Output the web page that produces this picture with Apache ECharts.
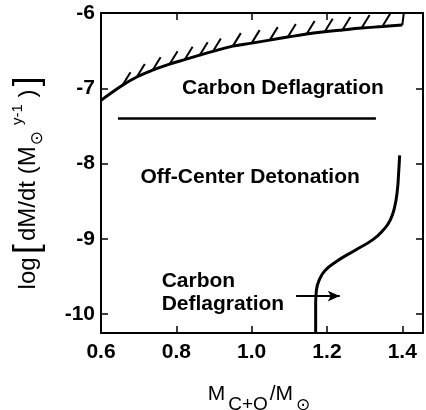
<!DOCTYPE html>
<html><head><meta charset="utf-8">
<script src="https://cdn.jsdelivr.net/npm/echarts@6/dist/echarts.min.js"></script>
<style>html,body{margin:0;padding:0;background:#fff}#c{width:426px;height:410px}</style>
</head><body><div id="c"></div>
<script>
// ---- data ----
const xTickValues = [0.6, 0.8, 1.0, 1.2, 1.4];
const yTickValues = [-10, -9, -8, -7, -6];
// upper (hatched) boundary curve; hatches are drawn at every point after the first
const upperX = [0.600, 0.657, 0.695, 0.737, 0.782, 0.822, 0.862, 0.897, 0.950, 1.000, 1.048, 1.096, 1.146, 1.194, 1.241, 1.292, 1.347, 1.400];
const upperY = [-7.16, -6.96, -6.85, -6.76, -6.68, -6.62, -6.56, -6.51, -6.44, -6.40, -6.36, -6.32, -6.28, -6.25, -6.225, -6.20, -6.18, -6.16];
// horizontal boundary
const midX = [0.645, 1.33];
const midY = [-7.40, -7.40];
// S-shaped boundary
const sX = [1.170, 1.170, 1.172, 1.180, 1.195, 1.225, 1.275, 1.322, 1.350, 1.368, 1.380, 1.387, 1.390, 1.393];
const sY = [-10.25, -9.85, -9.68, -9.54, -9.42, -9.30, -9.15, -9.01, -8.88, -8.75, -8.57, -8.35, -8.15, -7.89];
// arrow
const arrowX = [1.118, 1.234];
const arrowY = -9.76;
// region labels
const labelTexts = ['Carbon Deflagration', 'Off-Center Detonation', 'Carbon\nDeflagration'];
const labelX = [1.083, 0.996, 0.761];
const labelY = [-7.00, -8.18, -9.71];

const FONT = '"Liberation Sans", Arial, Helvetica, sans-serif';
const chart = echarts.init(document.getElementById('c'), null, {renderer: 'canvas'});
const axisLine = {show: true, onZero: false, lineStyle: {color: '#000', width: 2}};
const tickStyle = {color: '#000', width: 1.5};

const option = {
  animation: false,
  backgroundColor: '#fff',
  grid: {left: 101, right: 3, top: 13, bottom: 77, containLabel: false, outerBoundsMode: 'none'},
  xAxis: [{
    type: 'value', position: 'bottom', min: 0.6, max: 1.455,
    axisLine: axisLine,
    axisTick: {show: true, inside: true, length: 7, lineStyle: tickStyle, customValues: [0.8, 1.0, 1.2, 1.4]},
    axisLabel: {customValues: xTickValues, formatter: v => Number(v).toFixed(1), margin: 9,
      fontSize: 21, fontWeight: 'bold', color: '#000', fontFamily: FONT},
    splitLine: {show: false},
    name: '{m|M}{s|C+O}{m|/M}{o|⊙}',
    nameLocation: 'middle', nameGap: 51,
    nameTextStyle: {color: '#000', fontFamily: FONT, padding: [0, 6, 0, 0], rich: {
      m: {fontSize: 21, fontFamily: FONT, color: '#000', verticalAlign: 'top', lineHeight: 30},
      s: {fontSize: 19, fontFamily: FONT, color: '#000', verticalAlign: 'bottom', lineHeight: 30, padding: [0, 2, 0, 3]},
      o: {fontSize: 17, fontFamily: 'DejaVu Sans', color: '#000', verticalAlign: 'bottom', lineHeight: 30, padding: [0, 0, 0, 3]}
    }}
  }, {
    type: 'value', position: 'top', min: 0.6, max: 1.455,
    axisLine: axisLine,
    axisTick: {show: true, inside: true, length: 7, lineStyle: tickStyle, customValues: [0.8, 1.0, 1.2]},
    axisLabel: {show: false}, splitLine: {show: false}
  }],
  yAxis: [{
    type: 'value', position: 'left', min: -10.25, max: -6,
    axisLine: axisLine,
    axisTick: {show: true, inside: true, length: 7, lineStyle: tickStyle, customValues: [-10, -9, -8, -7]},
    axisLabel: {customValues: yTickValues, formatter: v => String(v), margin: 6,
      fontSize: 21, fontWeight: 'bold', color: '#000', fontFamily: FONT},
    splitLine: {show: false},
    name: '{m|log} {b|[} {m|dM/dt (M}{o|⊙}{p|y-1}{m| )} {b|]}',
    nameLocation: 'middle', nameGap: 55, nameRotate: 90,
    nameTextStyle: {color: '#000', fontFamily: FONT, padding: [0, 20, 0, 0], rich: {
      m: {fontSize: 24, fontFamily: FONT, color: '#000', lineHeight: 36},
      b: {fontSize: 35, fontFamily: FONT, color: '#000', lineHeight: 36},
      o: {fontSize: 17, fontFamily: 'DejaVu Sans', color: '#000', verticalAlign: 'bottom', lineHeight: 36, padding: [0, 0, 0, 1]},
      p: {fontSize: 15, fontFamily: FONT, color: '#000', verticalAlign: 'top', lineHeight: 36, padding: [0, 0, 0, 6]}
    }}
  }, {
    type: 'value', position: 'right', min: -10.25, max: -6,
    axisLine: axisLine,
    axisTick: {show: true, inside: true, length: 7, lineStyle: tickStyle, customValues: [-10, -9, -8, -7]},
    axisLabel: {show: false}, splitLine: {show: false}
  }],
  series: [
    {
      type: 'line', smooth: 0.4, symbol: 'none', xAxisIndex: 0, yAxisIndex: 0,
      data: upperX.map((x, i) => [x, upperY[i]]),
      lineStyle: {color: '#000', width: 3}
    },
    {
      type: 'custom', xAxisIndex: 0, yAxisIndex: 0,
      data: upperX.slice(1).map((x, i) => [x, upperY[i + 1]]),
      renderItem: function (params, api) {
        const p = api.coord([api.value(0), api.value(1)]);
        const top = api.coord([api.value(0), -6])[1];
        const last = params.dataIndexInside === params.dataInsideLength - 1;
        const x2 = last ? p[0] + 1.5 : p[0] + 8;
        const y2 = last ? top : Math.max(top, p[1] - 13);
        return {type: 'line', shape: {x1: p[0], y1: p[1], x2: x2, y2: y2},
          style: {stroke: '#000', lineWidth: 2}};
      }
    },
    {
      type: 'line', symbol: 'none', xAxisIndex: 0, yAxisIndex: 0,
      data: midX.map((x, i) => [x, midY[i]]),
      lineStyle: {color: '#000', width: 2.5}
    },
    {
      type: 'line', smooth: 0.5, symbol: 'none', xAxisIndex: 0, yAxisIndex: 0,
      data: sX.map((x, i) => [x, sY[i]]),
      lineStyle: {color: '#000', width: 3},
      markLine: {
        silent: true, symbol: ['none', 'arrow'], symbolSize: [8, 12],
        label: {show: false},
        lineStyle: {color: '#000', width: 2, type: 'solid'},
        emphasis: {disabled: true},
        data: [[{coord: [arrowX[0], arrowY]}, {coord: [arrowX[1], arrowY]}]]
      }
    },
    {
      type: 'custom', xAxisIndex: 0, yAxisIndex: 0,
      data: labelX.map((x, i) => [x, labelY[i], i]),
      renderItem: function (params, api) {
        const idx = api.value(2);
        const p = api.coord([api.value(0), api.value(1)]);
        return {type: 'text', x: p[0], y: p[1], style: {
          text: labelTexts[idx], fill: '#000',
          font: 'bold 21px ' + FONT,
          align: idx === 2 ? 'left' : 'center', verticalAlign: 'middle', lineHeight: 23
        }};
      }
    }
  ]
};
chart.setOption(option);
</script></body></html>
